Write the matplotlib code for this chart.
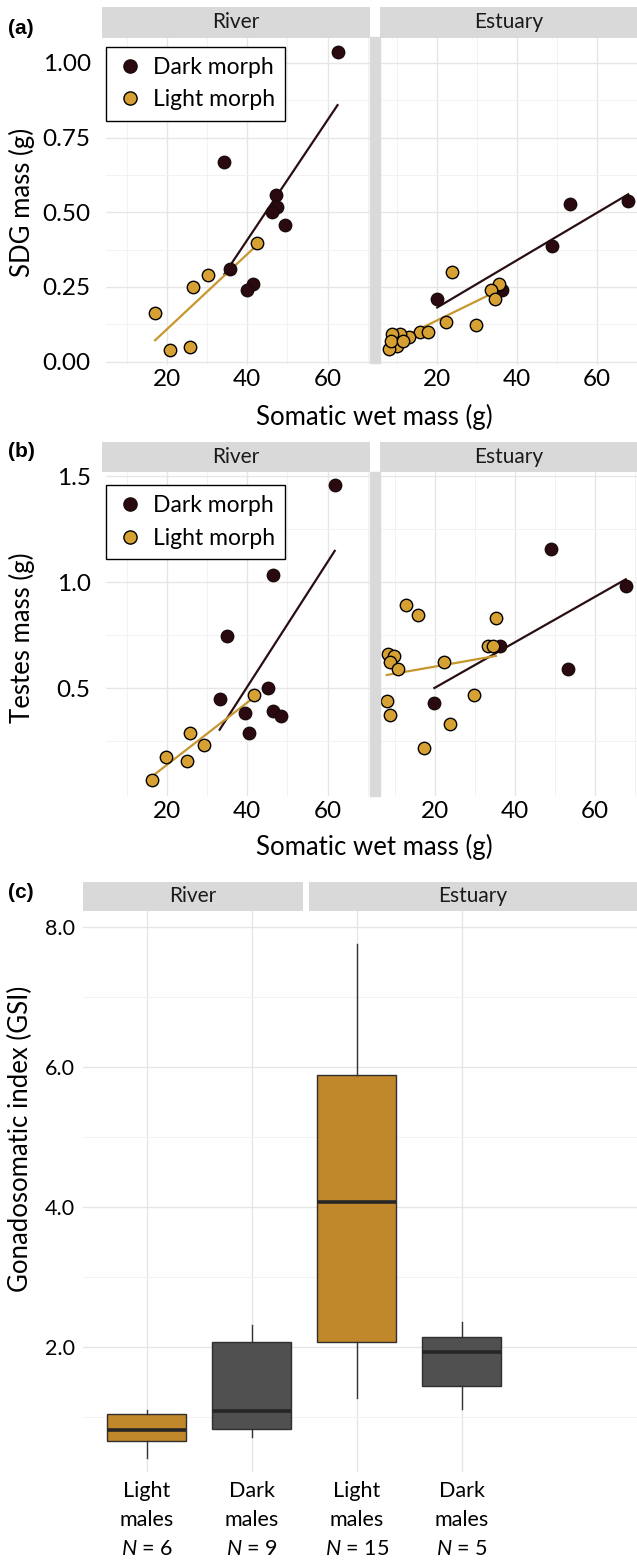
import matplotlib
matplotlib.use('Agg')
import matplotlib.pyplot as plt
import numpy as np
from matplotlib.patches import Rectangle
from matplotlib.lines import Line2D

plt.rcParams['font.family'] = ['Lato', 'DejaVu Sans']
plt.rcParams['mathtext.fontset'] = 'custom'
plt.rcParams['mathtext.it'] = 'Lato:italic'
plt.rcParams['mathtext.rm'] = 'Lato'

# ---------------- data ----------------
# (a) SDG mass vs somatic wet mass
sdg_river_dark_x = [62.5, 34.3, 47.2, 47.4, 46.1, 49.3, 35.8, 41.4, 39.9]
sdg_river_dark_y = [1.035, 0.667, 0.559, 0.518, 0.501, 0.458, 0.310, 0.260, 0.239]
sdg_river_light_x = [17.0, 20.7, 25.7, 26.4, 30.3, 42.5]
sdg_river_light_y = [0.161, 0.040, 0.049, 0.250, 0.289, 0.398]
sdg_est_dark_x = [67.8, 53.25, 48.8, 20.1, 36.4]
sdg_est_dark_y = [0.539, 0.528, 0.388, 0.211, 0.239]
sdg_est_light_x = [23.9, 35.6, 33.5, 34.5, 22.2, 29.9, 15.9, 17.7, 13.1, 10.9, 8.9, 10.1, 8.1, 8.5, 11.5]
sdg_est_light_y = [0.300, 0.258, 0.239, 0.210, 0.132, 0.121, 0.100, 0.099, 0.081, 0.093, 0.093, 0.051, 0.042, 0.068, 0.070]

# (b) Testes mass vs somatic wet mass
tes_river_dark_x = [61.8, 46.3, 35.0, 45.2, 33.1, 39.3, 46.3, 48.4, 40.5]
tes_river_dark_y = [1.458, 1.034, 0.744, 0.500, 0.449, 0.380, 0.390, 0.370, 0.289]
tes_river_light_x = [41.7, 25.6, 29.3, 19.8, 25.0, 16.3]
tes_river_light_y = [0.469, 0.289, 0.229, 0.176, 0.155, 0.065]
tes_est_dark_x = [48.9, 67.7, 36.25, 53.3, 19.8]
tes_est_dark_y = [1.157, 0.984, 0.700, 0.590, 0.430]
tes_est_light_x = [12.75, 15.8, 35.2, 33.2, 34.4, 8.1, 9.6, 8.6, 10.8, 22.1, 29.8, 7.9, 8.75, 23.6, 17.25]
tes_est_light_y = [0.893, 0.843, 0.833, 0.700, 0.700, 0.662, 0.650, 0.623, 0.592, 0.623, 0.469, 0.441, 0.372, 0.331, 0.218]

# (c) GSI boxplots
gsi_groups = ['Light', 'Dark', 'Light', 'Dark']
gsi_n = [6, 9, 15, 5]
gsi_whislo = [0.40, 0.70, 1.26, 1.11]
gsi_q1 = [0.65, 0.82, 2.06, 1.44]
gsi_med = [0.81, 1.08, 4.07, 1.92]
gsi_q3 = [1.03, 2.07, 5.89, 2.14]
gsi_whishi = [1.09, 2.31, 7.76, 2.35]

facet_names = ['River', 'Estuary']
legend_labels = ['Dark morph', 'Light morph']

# ---------------- style ----------------
DARK = '#2A0A10'
LIGHT = '#D6A033'
DARK_LINE = '#2A0F12'
LIGHT_LINE = '#C8962F'
BOX_LIGHT = '#C1872B'
BOX_DARK = '#505050'
STRIP = '#D9D9D9'
GRID_MAJ = '#E6E6E6'
GRID_MIN = '#F2F2F2'

W, H = 637, 1560
fig = plt.figure(figsize=(W / 100, H / 100), dpi=100)


def rect(l, t, r, b):
    return [l / W, 1 - b / H, (r - l) / W, (b - t) / H]


def strip(l, t, r, b, label):
    sa = fig.add_axes(rect(l, t, r, b))
    sa.set_facecolor(STRIP)
    sa.set_xticks([]); sa.set_yticks([])
    for s in sa.spines.values():
        s.set_visible(False)
    sa.text(0.5, 0.5, label, ha='center', va='center', fontsize=15, color='#1a1a1a',
            transform=sa.transAxes)


def style_axes(ax):
    ax.grid(which='major', color=GRID_MAJ, lw=1.0)
    ax.grid(which='minor', color=GRID_MIN, lw=0.7)
    ax.set_axisbelow(True)
    for s in ax.spines.values():
        s.set_visible(False)
    ax.tick_params(which='both', length=0, colors='black')


def scatter_panel(l, t, r, b, xlim, ylim, yticks, ytlabels, yminor, show_y, groups):
    ax = fig.add_axes(rect(l, t, r, b))
    ax.set_xlim(xlim); ax.set_ylim(ylim)
    ax.set_xticks([20, 40, 60]); ax.set_xticks([10, 30, 50, 70], minor=True)
    ax.set_yticks(yticks); ax.set_yticks(yminor, minor=True)
    style_axes(ax)
    ax.tick_params(axis='x', labelsize=17.5, pad=3)
    if show_y:
        ax.set_yticklabels(ytlabels)
        ax.tick_params(axis='y', labelsize=17.5, pad=11)
    else:
        ax.set_yticklabels([])
    for xs, ys, fill, edge, lc in groups:
        xs = np.asarray(xs); ys = np.asarray(ys)
        k, c = np.polyfit(xs, ys, 1)
        xx = np.array([xs.min(), xs.max()])
        ax.plot(xx, k * xx + c, color=lc, lw=1.6, zorder=2)
    for xs, ys, fill, edge, lc in groups:
        ax.scatter(xs, ys, s=80, c=fill, edgecolors=edge, linewidths=1.0, zorder=3)
    return ax


def add_legend(ax, top_px_offset, height_px):
    handles = [Line2D([], [], ls='none', marker='o', markersize=9.5, markerfacecolor=DARK,
                      markeredgecolor='#1a0a0a', markeredgewidth=1.0),
               Line2D([], [], ls='none', marker='o', markersize=9.5, markerfacecolor=LIGHT,
                      markeredgecolor='black', markeredgewidth=1.0)]
    lg = ax.legend(handles, legend_labels, loc='upper left',
                   bbox_to_anchor=(0.0, 1 - top_px_offset / height_px), borderaxespad=0,
                   frameon=True, fancybox=False, edgecolor='black', fontsize=16.5,
                   handletextpad=0.4, labelspacing=0.5, borderpad=0.45, handlelength=1.2,
                   framealpha=1)
    lg.get_frame().set_linewidth(1.0)


# ---------- Panel (a) ----------
a_top, a_bot = 37.5, 364.5
strip(102, 7, 370, 37.5, facet_names[0])
strip(380, 7, 637, 37.5, facet_names[1])
axa1 = scatter_panel(106, a_top, 370, a_bot, (4.75, 70.6), (-0.01, 1.085),
                     [0, 0.25, 0.5, 0.75, 1.0], ['0.00', '0.25', '0.50', '0.75', '1.00'],
                     [0.125, 0.375, 0.625, 0.875], True,
                     [(sdg_river_dark_x, sdg_river_dark_y, DARK, '#1a0a0a', DARK_LINE),
                      (sdg_river_light_x, sdg_river_light_y, LIGHT, 'black', LIGHT_LINE)])
axa2 = scatter_panel(380, a_top, 637, a_bot, (5.8, 69.9), (-0.01, 1.085),
                     [0, 0.25, 0.5, 0.75, 1.0], None,
                     [0.125, 0.375, 0.625, 0.875], False,
                     [(sdg_est_dark_x, sdg_est_dark_y, DARK, '#1a0a0a', DARK_LINE),
                      (sdg_est_light_x, sdg_est_light_y, LIGHT, 'black', LIGHT_LINE)])
add_legend(axa1, 9, a_bot - a_top)
fig.patches.append(Rectangle((370 / W, 1 - 363 / H), 9.5 / W, (363 - 37.5) / H,
                             transform=fig.transFigure, color=STRIP, zorder=0))
fig.text(22 / W, 1 - 202 / H, 'SDG mass (g)', rotation=90, ha='center', va='center', fontsize=18.5)
fig.text(374 / W, 1 - 417 / H, 'Somatic wet mass (g)', ha='center', va='center', fontsize=18.5)
fig.text(8 / W, 1 - 29 / H, '(a)', ha='left', va='center', fontsize=15, fontweight='bold',
         family='Liberation Sans')

# ---------- Panel (b) ----------
b_top, b_bot = 472, 796.5
strip(102, 442, 370, 472, facet_names[0])
strip(380, 442, 637, 472, facet_names[1])
axb1 = scatter_panel(106, b_top, 370, b_bot, (4.75, 70.6), (-0.012, 1.52),
                     [0.5, 1.0, 1.5], ['0.5', '1.0', '1.5'],
                     [0.25, 0.75, 1.25], True,
                     [(tes_river_dark_x, tes_river_dark_y, DARK, '#1a0a0a', DARK_LINE),
                      (tes_river_light_x, tes_river_light_y, LIGHT, 'black', LIGHT_LINE)])
axb2 = scatter_panel(380, b_top, 637, b_bot, (6.2, 70.5), (-0.012, 1.52),
                     [0.5, 1.0, 1.5], None,
                     [0.25, 0.75, 1.25], False,
                     [(tes_est_dark_x, tes_est_dark_y, DARK, '#1a0a0a', DARK_LINE),
                      (tes_est_light_x, tes_est_light_y, LIGHT, 'black', LIGHT_LINE)])
add_legend(axb1, 13, b_bot - b_top)
fig.patches.append(Rectangle((370 / W, 1 - 796.5 / H), 9.5 / W, (796.5 - 472) / H,
                             transform=fig.transFigure, color=STRIP, zorder=0))
fig.text(22 / W, 1 - 638 / H, 'Testes mass (g)', rotation=90, ha='center', va='center', fontsize=18.5)
fig.text(374 / W, 1 - 847 / H, 'Somatic wet mass (g)', ha='center', va='center', fontsize=18.5)
fig.text(8 / W, 1 - 451 / H, '(b)', ha='left', va='center', fontsize=15, fontweight='bold',
         family='Liberation Sans')

# ---------- Panel (c) ----------
c_top, c_bot = 910.7, 1471.7
strip(83, 881.7, 303, 910.7, facet_names[0])
strip(309, 881.7, 637, 910.7, facet_names[1])
axc = fig.add_axes(rect(83, c_top, 637, c_bot))
positions = np.arange(len(gsi_groups))
stats = []
for i in range(len(gsi_groups)):
    stats.append(dict(whislo=gsi_whislo[i], q1=gsi_q1[i], med=gsi_med[i], q3=gsi_q3[i],
                      whishi=gsi_whishi[i], fliers=[]))
bp = axc.bxp(stats, positions=positions, widths=0.75, patch_artist=True, showfliers=False,
             showcaps=False,
             boxprops=dict(edgecolor='#2f2f2f', linewidth=1.0),
             medianprops=dict(color='#262626', linewidth=2.6),
             whiskerprops=dict(color='#333333', linewidth=1.0))
for patch, g in zip(bp['boxes'], gsi_groups):
    patch.set_facecolor(BOX_LIGHT if g == 'Light' else BOX_DARK)
axc.set_xlim(-0.607, 4.67)
axc.set_ylim(0.21, 8.24)
axc.set_yticks([2, 4, 6, 8])
axc.set_yticks([1, 3, 5, 7], minor=True)
axc.set_yticklabels([f'{v:.1f}' for v in [2, 4, 6, 8]])
axc.set_xticks(positions)
axc.set_xticklabels([f'{g}\nmales\n$\\mathit{{N}}$ = {n}' for g, n in zip(gsi_groups, gsi_n)],
                    linespacing=1.55)
style_axes(axc)
axc.tick_params(axis='y', labelsize=15.5, pad=6)
axc.tick_params(axis='x', labelsize=15.5, pad=7)
fig.text(20 / W, 1 - 1139 / H, 'Gonadosomatic index (GSI)', rotation=90, ha='center', va='center',
         fontsize=18.5)
fig.text(8 / W, 1 - 893 / H, '(c)', ha='left', va='center', fontsize=15, fontweight='bold',
         family='Liberation Sans')

fig.savefig('out.png', dpi=100, facecolor='white')
